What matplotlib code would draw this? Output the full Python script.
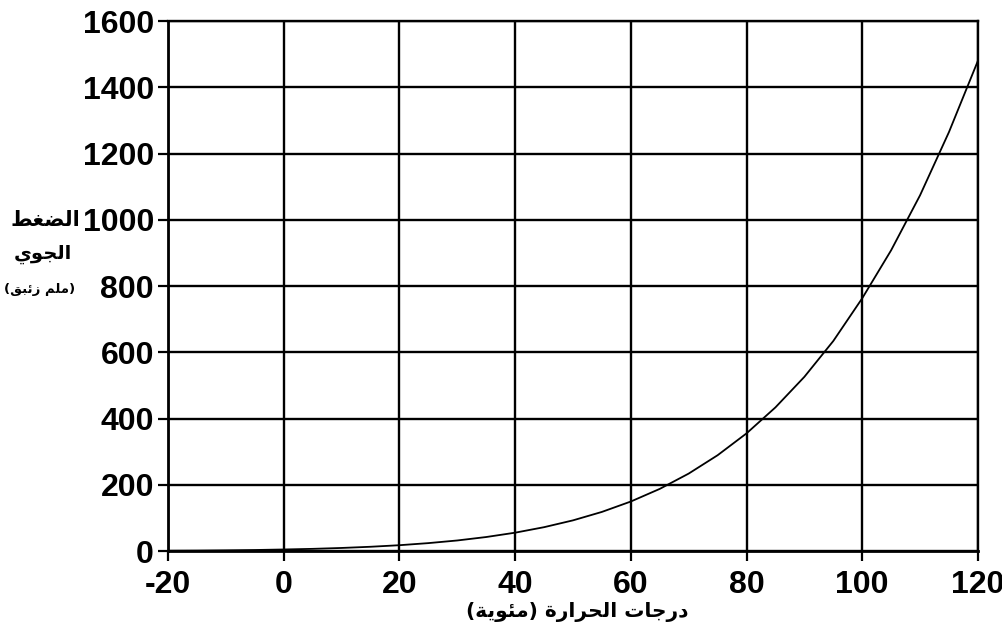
import matplotlib
matplotlib.use("Agg")
import matplotlib.pyplot as plt

# ---- data ----
temps = [-20, -15, -10, -5, 0, 5, 10, 15, 20, 25, 30, 35, 40, 45, 50, 55, 60,
         65, 70, 75, 80, 85, 90, 95, 100, 105, 110, 115, 120]
pressure = [0.8, 1.2, 2.0, 3.0, 4.6, 6.5, 9.2, 12.8, 17.5, 23.8, 31.8, 42.2, 55.3,
            71.9, 92.5, 118.0, 149.4, 187.5, 233.7, 289.1, 355.1, 433.6, 525.8,
            634.0, 763.0, 908.0, 1074.0, 1265.0, 1480.0]
x_ticks = [-20, 0, 20, 40, 60, 80, 100, 120]
y_ticks = [0, 200, 400, 600, 800, 1000, 1200, 1400, 1600]
ylabel_lines = ["الضغط", "الجوي", "(ملم زئبق)"]
xlabel_text = "درجات الحرارة (مئوية)"

# ---- minimal Arabic shaping (presentation forms + RTL) ----
FORMS = {  # iso, fin, ini, med  (None => right-joining only)
    'ا': (0xFE8D, 0xFE8E, None, None),
    'ب': (0xFE8F, 0xFE90, 0xFE91, 0xFE92),
    'ة': (0xFE93, 0xFE94, None, None),
    'ت': (0xFE95, 0xFE96, 0xFE97, 0xFE98),
    'ج': (0xFE9D, 0xFE9E, 0xFE9F, 0xFEA0),
    'ح': (0xFEA1, 0xFEA2, 0xFEA3, 0xFEA4),
    'د': (0xFEA9, 0xFEAA, None, None),
    'ر': (0xFEAD, 0xFEAE, None, None),
    'ز': (0xFEAF, 0xFEB0, None, None),
    'ض': (0xFEBD, 0xFEBE, 0xFEBF, 0xFEC0),
    'ط': (0xFEC1, 0xFEC2, 0xFEC3, 0xFEC4),
    'غ': (0xFECD, 0xFECE, 0xFECF, 0xFED0),
    'ق': (0xFED5, 0xFED6, 0xFED7, 0xFED8),
    'ل': (0xFEDD, 0xFEDE, 0xFEDF, 0xFEE0),
    'م': (0xFEE1, 0xFEE2, 0xFEE3, 0xFEE4),
    'ن': (0xFEE5, 0xFEE6, 0xFEE7, 0xFEE8),
    'و': (0xFEED, 0xFEEE, None, None),
    'ي': (0xFEF1, 0xFEF2, 0xFEF3, 0xFEF4),
    'ئ': (0xFE89, 0xFE8A, 0xFE8B, 0xFE8C),
}


def shape(s):
    out = []
    n = len(s)
    for i, ch in enumerate(s):
        if ch not in FORMS:
            out.append(ch)
            continue
        prev = s[i - 1] if i > 0 else None
        nxt = s[i + 1] if i < n - 1 else None
        join_prev = prev in FORMS and FORMS[prev][2] is not None
        join_next = nxt in FORMS and FORMS[ch][2] is not None
        iso, fin, ini, med = FORMS[ch]
        if join_prev and join_next:
            cp = med
        elif join_prev:
            cp = fin
        elif join_next:
            cp = ini
        else:
            cp = iso
        out.append(chr(cp))
    vis = ''.join(reversed(out))
    vis = vis.translate(str.maketrans({'(': ')', ')': '('}))
    return vis


plt.rcParams['font.family'] = ['Liberation Sans', 'DejaVu Sans']

fig = plt.figure(figsize=(10.03, 6.37), dpi=100)
ax = fig.add_axes([0.1675, 0.135, 0.8075, 0.832])

ax.plot(temps, pressure, color='black', linewidth=1.3, zorder=3)

ax.set_xlim(-20, 120)
ax.set_ylim(0, 1600)
ax.set_xticks(x_ticks)
ax.set_yticks(y_ticks)
ax.set_xticklabels([str(v) for v in x_ticks])
ax.set_yticklabels([str(v) for v in y_ticks])
ax.grid(True, color='black', linewidth=1.7)
ax.set_axisbelow(True)
for sp in ax.spines.values():
    sp.set_linewidth(1.7)
    sp.set_color('black')
ax.spines['left'].set_linewidth(2.0)
ax.spines['bottom'].set_linewidth(2.0)
ax.tick_params(axis='both', direction='out', length=7, width=1.6, colors='black',
               labelsize=23)
ax.tick_params(axis='x', pad=7)
ax.tick_params(axis='y', pad=3)
for lab in ax.get_xticklabels() + ax.get_yticklabels():
    lab.set_fontweight('bold')

dv = ['DejaVu Sans']
fig.text(45 / 1003, 1 - 220 / 637, shape(ylabel_lines[0]), ha='center', va='center',
         fontsize=15, fontweight='bold', family=dv)
fig.text(43 / 1003, 1 - 254 / 637, shape(ylabel_lines[1]), ha='center', va='center',
         fontsize=14, fontweight='bold', family=dv)
fig.text(40 / 1003, 1 - 290 / 637, shape(ylabel_lines[2]), ha='center', va='center',
         fontsize=9.5, fontweight='bold', family=dv)
fig.text(577 / 1003, 1 - 612 / 637, shape(xlabel_text), ha='center', va='center',
         fontsize=14.5, fontweight='bold', family=dv)

fig.savefig('out.png', dpi=100)
